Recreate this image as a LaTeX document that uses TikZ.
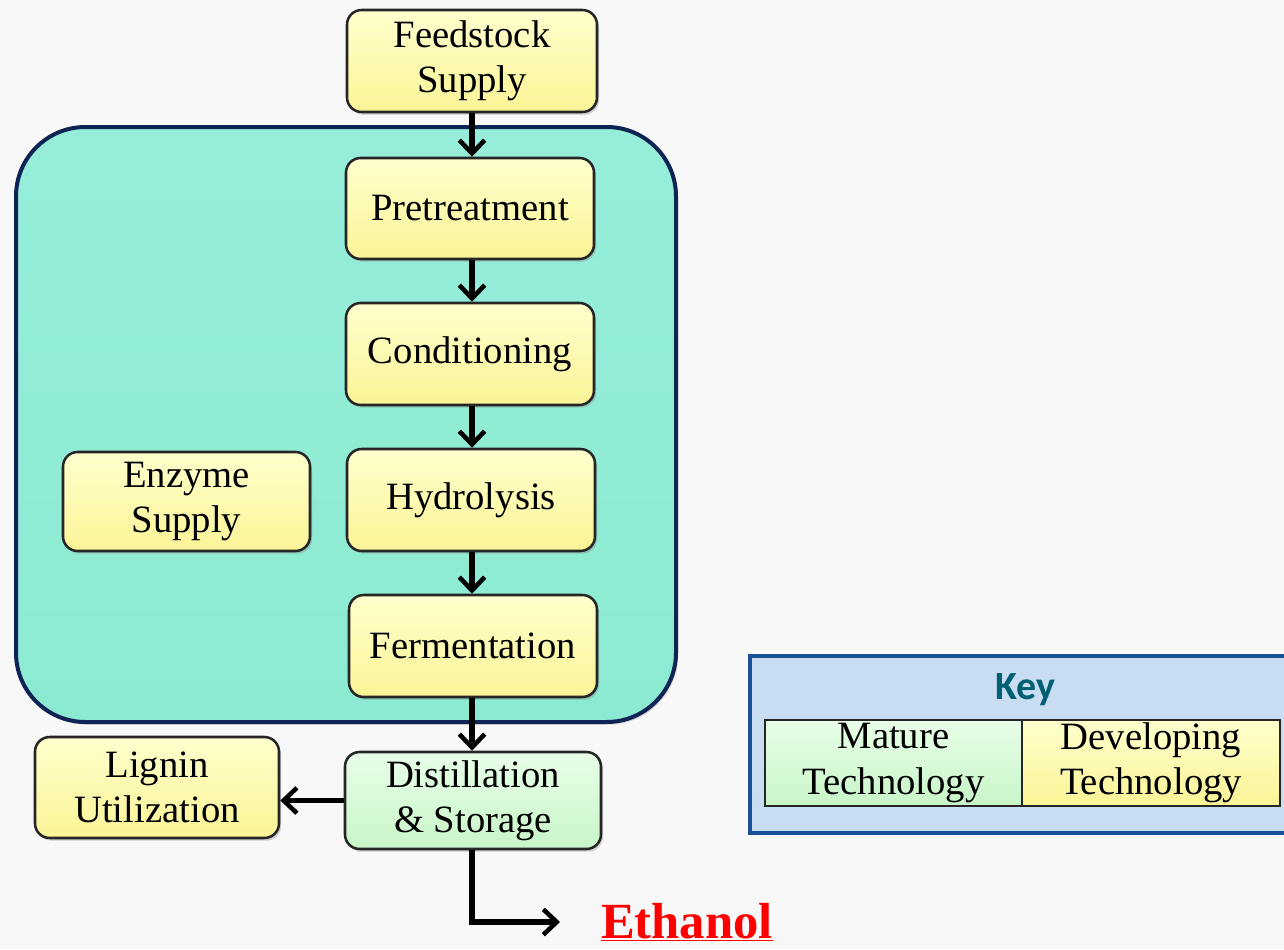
\documentclass[tikz,border=0pt]{standalone}
\usepackage{fontspec}
\setmainfont{Liberation Serif}
\newfontfamily\keyfont{Carlito}
\usetikzlibrary{arrows.meta,shadows}
\definecolor{yellowtop}{RGB}{255,255,205}
\definecolor{yellowbot}{RGB}{250,244,150}
\definecolor{greentop}{RGB}{232,255,232}
\definecolor{greenbot}{RGB}{200,245,200}
\definecolor{tealfill}{RGB}{140,234,210}
\definecolor{tealtop}{RGB}{150,238,218}
\definecolor{navy}{RGB}{15,35,85}
\definecolor{keyfill}{RGB}{200,220,242}
\definecolor{keyborder}{RGB}{25,80,150}
\definecolor{keytext}{RGB}{0,95,115}
\definecolor{bg}{RGB}{248,248,248}
\begin{document}
\begin{tikzpicture}[x=0.75pt,y=-0.75pt,
  wh/.style 2 args={minimum width=#1*0.75pt, minimum height=#2*0.75pt},
  boxfont/.style={font=\fontsize{29}{34}\selectfont},
  proc/.style={draw=black!85, line width=1.9pt, rounded corners=11pt,
    top color=yellowtop, bottom color=yellowbot, inner sep=0pt, align=center, boxfont,
    drop shadow={shadow xshift=1.5pt, shadow yshift=-2pt, opacity=0.35}},
  mature/.style={proc, top color=greentop, bottom color=greenbot},
  bigbox/.style={draw=navy, line width=3pt, rounded corners=52pt, top color=tealtop, bottom color=tealfill, inner sep=0pt,
    drop shadow={shadow xshift=1.5pt, shadow yshift=-2pt, opacity=0.3}},
  keybox/.style={draw=keyborder, line width=3pt, fill=keyfill, inner sep=0pt},
  keycell/.style={draw=black!85, line width=1.6pt, inner sep=0pt, align=center, boxfont},
  flow/.style={line width=3.8pt, -{Straight Barb[length=10pt,width=19pt,line width=3.4pt]}}
]
\useasboundingbox (0,0) rectangle (1284,949);
\fill[bg] (0,0) rectangle (1284,949);

% big stage box
\node[bigbox, wh={660}{595}] (stage) at (346,424.5) {};

% process boxes
\node[proc, wh={250}{102}] (feed) at (472,61) {Feedstock\\Supply};
\node[proc, wh={248}{101}] (pre) at (470,208.5) {Pretreatment};
\node[proc, wh={248}{102}] (cond) at (470,354) {Conditioning};
\node[proc, wh={248}{102}] (hyd) at (471,500) {Hydrolysis};
\node[proc, wh={248}{102}] (ferm) at (473,646) {Fermentation};
\node[proc, wh={247}{99}] (enz) at (186.5,501.5) {Enzyme\\Supply};
\node[mature, wh={256}{97}] (dist) at (473,800.5) {Distillation\\\& Storage};
\node[proc, wh={244}{101}] (lign) at (157,787.5) {Lignin\\Utilization};

% ethanol
\node[anchor=base, text=red, font=\bfseries\fontsize{38}{42}\selectfont] (eth) at (687,938) {\underline{Ethanol}};
\coordinate (ethin) at (560,922);

% arrows
\draw[flow] (feed.south -| 472,0) -- (pre.north -| 472,0);
\draw[flow] (pre.south -| 472,0) -- (cond.north -| 472,0);
\draw[flow] (cond.south -| 472,0) -- (hyd.north -| 472,0);
\draw[flow] (hyd.south -| 472,0) -- (ferm.north -| 472,0);
\draw[flow] (ferm.south -| 472,0) -- (dist.north -| 472,0);
\draw[flow] (dist.west) -- (dist.west -| lign.east);
\draw[flow] (dist.south -| 472,0) |- (ethin);

% key
\node[keybox, wh={542}{177}] (key) at (1021,744.5) {};
\node[text=keytext, font=\keyfont\bfseries\fontsize{30}{32}\selectfont] (keylab) at (1025,690) {Key};
\node[keycell, top color=greentop, bottom color=greenbot, wh={257}{86}] (kmat) at (893.5,763) {Mature\\Technology};
\node[keycell, top color=yellowtop, bottom color=yellowbot, wh={258}{86}] (kdev) at (1151,763) {Developing\\Technology};
\end{tikzpicture}
\end{document}
